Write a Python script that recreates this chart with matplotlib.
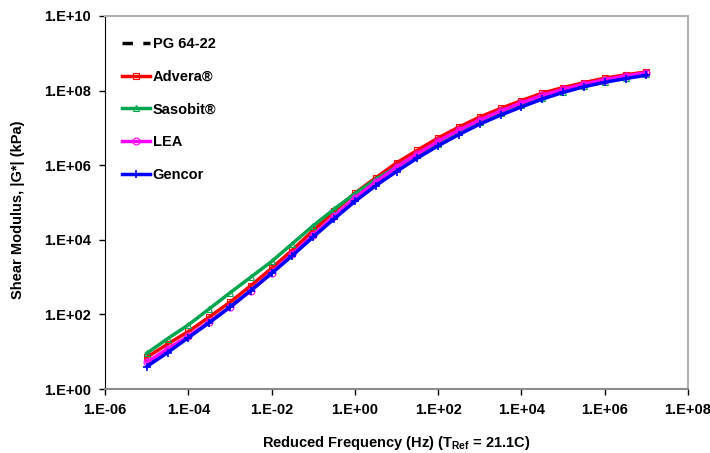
import numpy as np
import matplotlib
matplotlib.use("Agg")
import matplotlib.pyplot as plt
from matplotlib.ticker import FuncFormatter, FixedLocator, NullLocator

plt.rcParams['font.family'] = ['Liberation Sans', 'DejaVu Sans']

# reduced frequency (Hz), half-decade steps
freq = [1e-5, 3.16e-5, 1e-4, 3.16e-4, 1e-3, 3.16e-3, 1e-2, 3.16e-2, 1e-1, 3.16e-1,
        1e0, 3.16e0, 1e1, 3.16e1, 1e2, 3.16e2, 1e3, 3.16e3, 1e4, 3.16e4,
        1e5, 3.16e5, 1e6, 3.16e6, 1e7]

# |G*| (kPa)
pg6422 = [4.6, 11, 25, 62, 158, 437, 1290, 3980, 1.26e4, 3.98e4,
          1.2e5, 3.16e5, 7.76e5, 1.74e6, 3.8e6, 7.59e6, 1.45e7, 2.51e7, 4.17e7, 6.61e7,
          9.77e7, 1.38e8, 1.82e8, 2.29e8, 2.82e8]
advera = [7.1, 16, 35, 85, 214, 590, 1740, 5370, 1.78e4, 5.75e4,
          1.78e5, 4.57e5, 1.15e6, 2.51e6, 5.37e6, 1.05e7, 1.95e7, 3.31e7, 5.37e7, 8.51e7,
          1.2e8, 1.62e8, 2.14e8, 2.63e8, 3.16e8]
sasobit = [9.1, 22.4, 52.5, 141, 380, 1000, 2630, 7940, 2.4e4, 6.61e4,
           1.74e5, 4.17e5, 8.91e5, 1.86e6, 3.8e6, 7.59e6, 1.41e7, 2.45e7, 3.98e7, 6.31e7,
           9.33e7, 1.29e8, 1.7e8, 2.19e8, 2.69e8]
lea = [5.25, 12, 26.3, 63, 158, 437, 1320, 4170, 1.32e4, 4.27e4,
       1.32e5, 3.55e5, 8.91e5, 2.0e6, 4.37e6, 8.71e6, 1.62e7, 2.82e7, 4.68e7, 7.41e7,
       1.07e8, 1.48e8, 1.95e8, 2.45e8, 3.02e8]
gencor = [4.0, 9.5, 24, 60, 158, 437, 1260, 3800, 1.2e4, 3.63e4,
          1.07e5, 2.82e5, 6.76e5, 1.55e6, 3.31e6, 6.61e6, 1.26e7, 2.19e7, 3.63e7, 5.89e7,
          8.91e7, 1.26e8, 1.66e8, 2.09e8, 2.57e8]

xticks = [1e-6, 1e-4, 1e-2, 1e0, 1e2, 1e4, 1e6, 1e8]
yticks = [1e0, 1e2, 1e4, 1e6, 1e8, 1e10]

fig = plt.figure(figsize=(7.1, 4.53), dpi=100)
ax = fig.add_axes([0.148, 0.141, 0.821, 0.824])

ax.plot(freq, pg6422, color='black', lw=2.5, ls=(0, (3, 3)), label='PG 64-22')
ax.plot(freq, advera, color='red', lw=2.5, marker='s', ms=5, mfc='none', mew=0.8, label='Advera®')
ax.plot(freq, sasobit, color='#00a550', lw=2.5, marker='^', ms=5, mfc='none', mew=0.8, label='Sasobit®')
ax.plot(freq, lea, color='magenta', lw=2.5, marker='o', ms=5, mfc='none', mew=0.8, label='LEA')
ax.plot(freq, gencor, color='blue', lw=2.5, marker='+', ms=6, mew=1.2, label='Gencor')

ax.set_xscale('log')
ax.set_yscale('log')
ax.set_xlim(1e-6, 1e8)
ax.set_ylim(1e0, 1e10)
ax.xaxis.set_major_locator(FixedLocator(xticks))
ax.yaxis.set_major_locator(FixedLocator(yticks))
ax.xaxis.set_minor_locator(NullLocator())
ax.yaxis.set_minor_locator(NullLocator())

fmt = FuncFormatter(lambda v, p: "1.E%+03d" % int(round(np.log10(v))))
ax.xaxis.set_major_formatter(fmt)
ax.yaxis.set_major_formatter(fmt)
ax.tick_params(direction='out', length=4, width=1, labelsize=10.5, pad=6)
for lab in ax.get_xticklabels() + ax.get_yticklabels():
    lab.set_fontweight('bold')

ax.spines['left'].set_color('black')
ax.spines['bottom'].set_color('#8c8c8c')
ax.spines['top'].set_color('#b0b0b0')
ax.spines['right'].set_color('#b0b0b0')
for s in ['bottom', 'top', 'right']:
    ax.spines[s].set_linewidth(1.5)

ax.set_xlabel('Reduced Frequency (Hz) (T$_{\\mathregular{Ref}}$ = 21.1C)', fontsize=10.5, fontweight='bold', labelpad=12)
ax.set_ylabel('Shear Modulus, |G*| (kPa)', fontsize=10.5, fontweight='bold')
ax.yaxis.set_label_coords(-0.137, 0.48)

leg = ax.legend(loc='upper left', bbox_to_anchor=(0, 0.989), frameon=False, handlelength=1.9,
                handletextpad=0.2, labelspacing=1.29, borderaxespad=0.76,
                prop={'weight': 'bold', 'size': 10.5})

fig.savefig('out.png', dpi=100)
